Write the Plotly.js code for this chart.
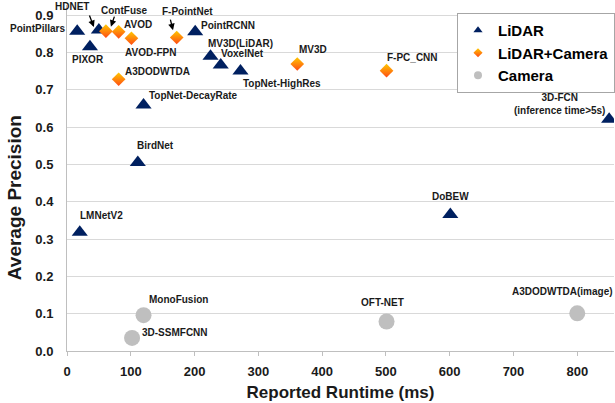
<!DOCTYPE html>
<html>
<head>
<meta charset="utf-8">
<script src="https://cdn.plot.ly/plotly-3.0.1.min.js"></script>
<style>html,body{margin:0;padding:0;background:#fff;}#chart{width:615px;height:403px;}</style>
</head>
<body>
<div id="chart"></div>
<script>
// ---- data ----
var lidarNames = ["PointPillars","HDNET","PIXOR","PointRCNN","MV3D(LiDAR)","VoxelNet","TopNet-HighRes","TopNet-DecayRate","BirdNet","LMNetV2","DoBEW","3D-FCN<br>(inference time>5s)"];
var lidarRuntime = [16, 50, 36, 201, 225, 241, 272, 120, 111, 20, 601, 850];
var lidarAP = [0.857, 0.860, 0.815, 0.855, 0.790, 0.766, 0.750, 0.659, 0.505, 0.318, 0.366, 0.621];

var fusionNames = ["ContFuse","AVOD","AVOD-FPN","A3DODWTDA","F-PointNet","MV3D","F-PC_CNN"];
var fusionRuntime = [61, 81, 101, 81, 172, 361, 501];
var fusionAP = [0.857, 0.855, 0.838, 0.728, 0.840, 0.769, 0.751];

var cameraNames = ["MonoFusion","3D-SSMFCNN","OFT-NET","A3DODWTDA(image)"];
var cameraRuntime = [120, 102, 501, 800];
var cameraAP = [0.096, 0.035, 0.079, 0.101];

var seriesNames = ["LiDAR","LiDAR+Camera","Camera"];
var xTitle = "Reported Runtime (ms)";
var yTitle = "Average Precision";

// ---- label placement (pixel offsets from the point) ----
var labelOffsets = {
  "PointPillars": [-10, 2.4, "right"],
  "HDNET": [-26.5, 23.3, "center"],
  "PIXOR": [-2, -12.6, "center"],
  "PointRCNN": [32.3, 6.7, "center"],
  "MV3D(LiDAR)": [30, 12.7, "center"],
  "VoxelNet": [22, 11.7, "center"],
  "TopNet-HighRes": [41.3, -12.3, "center"],
  "TopNet-DecayRate": [50, 10, "center"],
  "BirdNet": [17.7, 16.6, "center"],
  "LMNetV2": [22, 16.6, "center"],
  "DoBEW": [0, 17.6, "center"],
  "3D-FCN<br>(inference time>5s)": [-50, 15.2, "center"],
  "ContFuse": [19, 21, "center"],
  "AVOD": [19, 7.4, "center"],
  "AVOD-FPN": [18.8, -14, "center"],
  "A3DODWTDA": [39, 7.6, "center"],
  "F-PointNet": [10.3, 26.3, "center"],
  "MV3D": [15.3, 14, "center"],
  "F-PC_CNN": [26.2, 13.4, "center"],
  "MonoFusion": [35, 15.7, "center"],
  "3D-SSMFCNN": [42.7, 5.7, "center"],
  "OFT-NET": [-4.3, 19, "center"],
  "A3DODWTDA(image)": [-14.8, 21.6, "center"]
};
// arrows: [tip xshift, tip yshift, tail ax, tail ay]
var arrowOffsets = {
  "HDNET": [-5, 3, -5, -13],
  "ContFuse": [5, 4.5, 4, -11.5],
  "F-PointNet": [-3.7, 7.3, -3, -12]
};

var FONT = "Arial, 'Liberation Sans', sans-serif";
var navy = "#002060";
var diamondTop = "#ffc800";
var diamondBottom = "#ff4a14";

var traces = [
  {x: lidarRuntime, y: lidarAP, type: "scatter", mode: "markers", showlegend: false,
   marker: {symbol: "triangle-up", size: 14, color: navy}},
  {x: fusionRuntime, y: fusionAP, type: "scatter", mode: "markers", showlegend: false,
   marker: {symbol: "diamond", size: 10.5, color: diamondTop, gradient: {type: "vertical", color: diamondBottom}}},
  {x: cameraRuntime, y: cameraAP, type: "scatter", mode: "markers", showlegend: false,
   marker: {symbol: "circle", size: 16, color: "#bfbfbf"}},
  // legend entries
  {x: [null], y: [null], type: "scatter", mode: "markers", name: seriesNames[0],
   marker: {symbol: "triangle-up", size: 8, color: navy}},
  {x: [null], y: [null], type: "scatter", mode: "markers", name: seriesNames[1],
   marker: {symbol: "diamond", size: 7, color: diamondTop, gradient: {type: "vertical", color: diamondBottom}}},
  {x: [null], y: [null], type: "scatter", mode: "markers", name: seriesNames[2],
   marker: {symbol: "circle", size: 8, color: "#bfbfbf"}}
];

var annotations = [];
function addLabels(names, xs, ys) {
  for (var i = 0; i < names.length; i++) {
    var o = labelOffsets[names[i]];
    annotations.push({x: xs[i], y: ys[i], xref: "x", yref: "y", text: "<b>" + names[i].replace("<br>", "</b><br><b>") + "</b>",
      showarrow: false, xanchor: o[2], yanchor: "middle", xshift: o[0], yshift: o[1],
      font: {family: FONT, size: 10, color: "#1a1a1a"}});
    var a = arrowOffsets[names[i]];
    if (a) {
      annotations.push({x: xs[i], y: ys[i], xref: "x", yref: "y", text: "", showarrow: true,
        xshift: a[0], yshift: a[1], ax: a[2], ay: a[3], arrowhead: 2, arrowsize: 1, arrowwidth: 1.3,
        arrowcolor: "#000", standoff: 0, startstandoff: 0});
    }
  }
}
addLabels(lidarNames, lidarRuntime, lidarAP);
addLabels(fusionNames, fusionRuntime, fusionAP);
addLabels(cameraNames, cameraRuntime, cameraAP);

annotations.push({xref: "paper", yref: "paper", x: -0.0967, y: 0.442, text: "<b>" + yTitle + "</b>",
  textangle: -90, showarrow: false, xanchor: "center", yanchor: "middle",
  font: {family: FONT, size: 19, color: "#1a1a1a"}});

var layout = {
  width: 615, height: 403,
  margin: {l: 67, r: 0, t: 5, b: 52},
  paper_bgcolor: "#fff", plot_bgcolor: "#fff",
  font: {family: FONT, color: "#1a1a1a"},
  showlegend: true,
  legend: {x: 0.7135, y: 0.977, xanchor: "left", yanchor: "top", bgcolor: "#fff",
    bordercolor: "#a6a6a6", borderwidth: 1, font: {family: FONT, size: 15, color: "#000", weight: "bold"},
    itemwidth: 30},
  xaxis: {range: [0, 857.6], dtick: 100, tick0: 0, showgrid: false, zeroline: false,
    showline: true, linecolor: "#bfbfbf", linewidth: 1, ticks: "outside", ticklen: 4, tickcolor: "#bfbfbf",
    ticklabelstandoff: 4,
    tickfont: {family: FONT, size: 13, color: "#1a1a1a", weight: "bold"},
    title: {text: "<b>" + xTitle + "</b>", font: {family: FONT, size: 17, color: "#1a1a1a"}, standoff: 8}},
  yaxis: {range: [0, 0.927], dtick: 0.1, tick0: 0, tickformat: ".1f", showgrid: true, gridcolor: "#d9d9d9",
    zeroline: false, showline: true, linecolor: "#bfbfbf", linewidth: 1, ticks: "",
    ticklabelstandoff: 10,
    tickfont: {family: FONT, size: 13, color: "#1a1a1a", weight: "bold"}},
  annotations: annotations
};

Plotly.newPlot("chart", traces, layout, {displayModeBar: false, staticPlot: true});
</script>
</body>
</html>
